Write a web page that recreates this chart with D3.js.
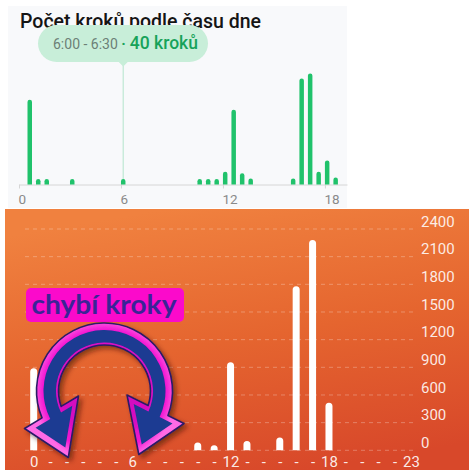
<!DOCTYPE html>
<html><head><meta charset="utf-8">
<script src="https://cdn.jsdelivr.net/npm/d3@7"></script>
<style>html,body{margin:0;padding:0;background:#fff;}svg{display:block;}</style>
</head><body>
<script>
// ---- data ----
const topTitle = "Počet kroků podle času dne";
const topBinStarts = [0.5, 1, 1.5, 3, 6, 10.5, 11, 11.5, 12, 12.5, 13, 13.5, 16, 16.5, 17, 17.5, 18, 18.5];
const topBinSteps  = [1270, 60, 55, 45, 40, 70, 65, 80, 190, 1120, 170, 90, 90, 1590, 1665, 190, 360, 105];
const topTicks = [0, 6, 12, 18];
const tooltipTime = "6:00 - 6:30";
const tooltipValue = "40 kroků";
const tooltipBin = 6;

const bottomHours = [0, 10, 11, 12, 13, 15, 16, 17, 18];
const bottomSteps = [890, 85, 55, 955, 100, 140, 1780, 2280, 515];
const bottomYTicks = [0, 300, 600, 900, 1200, 1500, 1800, 2100, 2400];
const bottomXHours = d3.range(0, 24);
const bottomXLabeled = [0, 6, 12, 18, 23];
const annotationText = "chybí kroky";

// ---- svg ----
const W = 474, H = 474;
const svg = d3.select("body").append("svg").attr("width", W).attr("height", H);
const defs = svg.append("defs");

function barPath(x, y0, w, h) {
  const r = w / 2;
  h = Math.max(h, r + 0.5);
  return `M${x},${y0}V${y0 - h + r}A${r},${r} 0 0 1 ${x + w},${y0 - h + r}V${y0}Z`;
}

// ===== TOP PANEL =====
svg.append("rect").attr("x", 8).attr("y", 6).attr("width", 339).attr("height", 202).attr("fill", "#f8f9fb");

const xTop = d3.scaleLinear().domain([0, 19.3]).range([19, 347]);
const yTop = d3.scaleLinear().domain([0, 1800]).range([184.5, 64.5]);
const topBarW = 4.5;

svg.append("text").attr("x", 20).attr("y", 27.5)
  .attr("font-family", "Roboto, sans-serif").attr("font-size", 19.5).attr("font-weight", 500)
  .attr("fill", "#151515").text(topTitle);

// hover line
const hoverX = xTop(tooltipBin) + topBarW / 2;
svg.append("line").attr("x1", hoverX).attr("x2", hoverX).attr("y1", 64).attr("y2", 184.5)
  .attr("stroke", "#bfe8d3").attr("stroke-width", 1.2);

// axis
const gTopAxis = svg.append("g").attr("transform", "translate(0,184.5)")
  .call(d3.axisBottom(xTop).tickValues(topTicks).tickSize(4).tickSizeOuter(0).tickPadding(6));
gTopAxis.select(".domain").attr("stroke", "#d6d6d6");
gTopAxis.selectAll(".tick line").attr("stroke", "#d6d6d6");
gTopAxis.selectAll(".tick text").attr("text-anchor", "start").attr("x", -1)
  .attr("font-family", "Roboto, sans-serif").attr("font-size", 13.5).attr("fill", "#8a8a8a");

// bars
svg.append("g").selectAll("path").data(topBinStarts).join("path")
  .attr("d", (s, i) => barPath(xTop(s), yTop(0), topBarW, Math.max(5.5, yTop(0) - yTop(topBinSteps[i]))))
  .attr("fill", "#20c26b");

// tooltip
const tip = svg.append("g");
tip.append("rect").attr("x", 38).attr("y", 25).attr("width", 170).attr("height", 37).attr("rx", 18.5)
  .attr("fill", "#c8eed9");
tip.append("path").attr("d", `M${hoverX - 5},61.5L${hoverX + 5},61.5L${hoverX},66.5Z`).attr("fill", "#c8eed9");
const tt = tip.append("text").attr("x", 53).attr("y", 48.5).attr("font-family", "Roboto, sans-serif");
tt.append("tspan").attr("font-size", 14).attr("fill", "#6c7f76").text(tooltipTime + " ");
tt.append("tspan").attr("font-size", 15).attr("fill", "#17a25a").attr("font-weight", 700).text("·");
tt.append("tspan").attr("font-size", 17.5).attr("fill", "#17a25a").attr("font-weight", 500).attr("dx", 4).text(tooltipValue);

// ===== BOTTOM PANEL =====
const bg = defs.append("linearGradient").attr("id", "orng").attr("x1", 0.35).attr("y1", 0).attr("x2", 0.65).attr("y2", 1);
bg.append("stop").attr("offset", 0).attr("stop-color", "#f0813f");
bg.append("stop").attr("offset", 0.5).attr("stop-color", "#e5652f");
bg.append("stop").attr("offset", 1).attr("stop-color", "#d8482a");
svg.append("rect").attr("x", 5).attr("y", 209).attr("width", 464).attr("height", 261).attr("fill", "url(#orng)");

const xBot = d3.scaleLinear().domain([0, 23]).range([33.7, 411]);
const yBot = d3.scaleLinear().domain([0, 2400]).range([450.3, 229]);
const botBarW = 7;

// gridlines
svg.append("g").selectAll("line").data(bottomYTicks).join("line")
  .attr("x1", 25).attr("x2", 415).attr("y1", d => yBot(d)).attr("y2", d => yBot(d))
  .attr("stroke", "rgba(255,255,255,0.28)").attr("stroke-width", 1).attr("stroke-dasharray", "4,4");

// y labels
const gY = svg.append("g").attr("transform", "translate(421,0)")
  .call(d3.axisRight(yBot).tickValues(bottomYTicks).tickSize(0).tickPadding(0).tickFormat(d3.format("d")));
gY.select(".domain").remove();
gY.selectAll(".tick text").attr("dy", "-0.18em").attr("x", 0).attr("text-anchor", "start")
  .attr("font-family", "Roboto, sans-serif").attr("font-size", 15).attr("fill", "rgba(255,255,255,0.88)");

// x labels
const gX = svg.append("g").attr("transform", "translate(0,452)")
  .call(d3.axisBottom(xBot).tickValues(bottomXHours).tickSize(0).tickPadding(0)
    .tickFormat(h => bottomXLabeled.includes(h) ? String(h) : "-"));
gX.select(".domain").remove();
gX.selectAll(".tick text").attr("dy", "1.0em")
  .attr("font-family", "Roboto, sans-serif").attr("font-size", 15).attr("fill", "rgba(255,255,255,0.9)");

// bars
svg.append("g").selectAll("path").data(bottomHours).join("path")
  .attr("d", (h, i) => barPath(xBot(h) - botBarW / 2, yBot(0), botBarW, yBot(0) - yBot(bottomSteps[i])))
  .attr("fill", "#ffffff");

// ===== ANNOTATION =====
const lbl = svg.append("g");
lbl.append("rect").attr("x", 26).attr("y", 288).attr("width", 158).attr("height", 34).attr("rx", 5)
  .attr("fill", "#fb0acb");
lbl.append("text").attr("x", 104).attr("y", 314).attr("text-anchor", "middle")
  .attr("font-family", "Lato, sans-serif").attr("font-weight", 700).attr("font-size", 26).attr("fill", "#3a2496")
  .attr("textLength", 145).attr("lengthAdjust", "spacingAndGlyphs").text(annotationText);

const sh = defs.append("filter").attr("id", "shd").attr("x", -0.3).attr("y", -0.3).attr("width", 1.6).attr("height", 1.6);
sh.append("feDropShadow").attr("dx", 3).attr("dy", 3).attr("stdDeviation", 2.5)
  .attr("flood-color", "#3a0a00").attr("flood-opacity", 0.55);

const C = [104.5, 391];
function circleHit(p1, p2, r) {
  const dx = p2[0] - p1[0], dy = p2[1] - p1[1];
  const fx = p1[0] - C[0], fy = p1[1] - C[1];
  const a = dx * dx + dy * dy, b = 2 * (fx * dx + fy * dy), c = fx * fx + fy * fy - r * r;
  const disc = Math.sqrt(Math.max(0, b * b - 4 * a * c));
  const ts = [(-b - disc) / (2 * a), (-b + disc) / (2 * a)];
  const t = ts.reduce((best, v) => Math.abs(v - 0.5) < Math.abs(best - 0.5) ? v : best);
  return [p1[0] + dx * t, p1[1] + dy * t];
}
function arrowPath(rIn, rOut, L, R) {
  const lo = circleHit(L.outer, L.inner, rOut), li = circleHit(L.outer, L.inner, rIn);
  const ro = circleHit(R.outer, R.inner, rOut), ri = circleHit(R.outer, R.inner, rIn);
  return `M${L.tip}L${L.outer}L${lo}A${rOut},${rOut} 0 1 1 ${ro}L${R.outer}L${R.tip}L${R.inner}L${ri}` +
    `A${rIn},${rIn} 0 1 0 ${li}L${L.inner}Z`;
}
function shrink(hd, k, dx, dy) {
  const cx = (hd.tip[0] + hd.outer[0] + hd.inner[0]) / 3 + dx, cy = (hd.tip[1] + hd.outer[1] + hd.inner[1]) / 3 + dy;
  const f = p => [cx + (p[0] - cx) * k, cy + (p[1] - cy) * k];
  return { tip: f(hd.tip), outer: f(hd.outer), inner: f(hd.inner) };
}
const headL = { tip: [68.3, 457.5], outer: [24.5, 428.5], inner: [78.5, 396] };
const headR = { tip: [138.8, 454.5], outer: [184, 423.5], inner: [127, 395] };

const ag = defs.append("radialGradient").attr("id", "mag").attr("gradientUnits", "userSpaceOnUse")
  .attr("cx", C[0]).attr("cy", C[1]).attr("r", 72);
ag.append("stop").attr("offset", 0.6).attr("stop-color", "#d40fc0");
ag.append("stop").attr("offset", 0.85).attr("stop-color", "#f316d2");
ag.append("stop").attr("offset", 1).attr("stop-color", "#ff6ae6");

const arrow = svg.append("g").attr("filter", "url(#shd)");
arrow.append("path").attr("d", arrowPath(46, 68, headL, headR))
  .attr("fill", "url(#mag)").attr("stroke", "#2c1a66").attr("stroke-width", 1.6).attr("stroke-linejoin", "round");
arrow.append("path").attr("d", arrowPath(48.5, 61, shrink(headL, 0.68, 2, -1), shrink(headR, 0.68, -2, -1)))
  .attr("fill", "#1c3a92");
</script>
</body></html>
